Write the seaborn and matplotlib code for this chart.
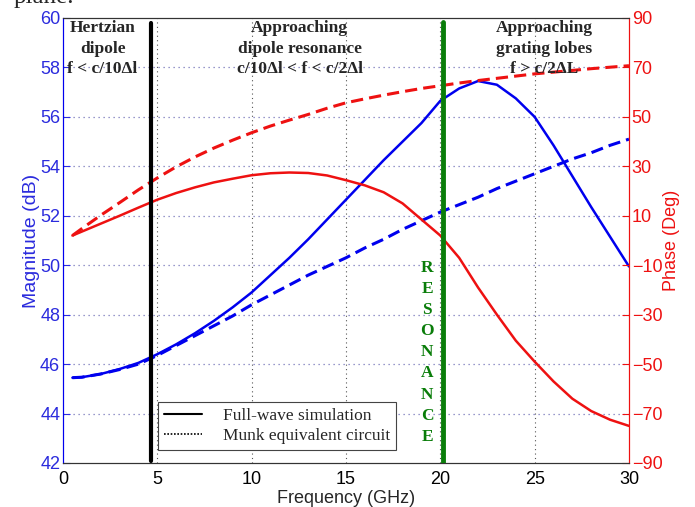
import matplotlib
matplotlib.use("Agg")
import matplotlib.pyplot as plt
from matplotlib.lines import Line2D
import seaborn as sns
import pandas as pd

# frequency grid (GHz)
freq = [0.5, 1, 2, 3, 4, 5, 6, 7, 8, 9, 10, 11, 12, 13, 14, 15,
        16, 17, 18, 19, 20, 21, 22, 23, 24, 25, 26, 27, 28, 29, 30]

# magnitude (dB)
mag_full = [45.45, 45.47, 45.6, 45.8, 46.05, 46.4, 46.8, 47.25, 47.75, 48.3,
            48.9, 49.6, 50.3, 51.05, 51.85, 52.65, 53.45, 54.25, 55.0, 55.75,
            56.65, 57.15, 57.45, 57.3, 56.75, 56.0, 54.85, 53.6, 52.35, 51.15, 49.95]
mag_munk = [45.45, 45.47, 45.6, 45.78, 46.0, 46.35, 46.75, 47.15, 47.55, 47.95,
            48.4, 48.8, 49.2, 49.6, 49.95, 50.3, 50.7, 51.05, 51.45, 51.8,
            52.15, 52.45, 52.75, 53.1, 53.4, 53.7, 54.0, 54.3, 54.55, 54.85, 55.1]

# phase (deg)
phase_full = [2, 3.6, 6.8, 10, 13.3, 16.5, 19.2, 21.5, 23.5, 25, 26.4, 27.2,
              27.5, 27.3, 26.3, 24.4, 22.3, 19.5, 15, 8.5, 2, -7, -19, -30,
              -40.5, -49, -57, -64, -69, -72.5, -75]
phase_munk = [2, 4.8, 10.2, 15.3, 20.5, 25.3, 29.8, 33.8, 37.4, 40.6, 43.6,
              46.3, 48.7, 51, 53.5, 55.7, 57.3, 58.8, 60.2, 61.5, 62.6, 63.7,
              64.7, 65.6, 66.5, 67.4, 68.1, 68.8, 69.5, 70.1, 70.7]

f_hertz = 4.65
f_res = 20.15

df = pd.DataFrame({"freq": freq, "mag_full": mag_full, "mag_munk": mag_munk,
                   "phase_full": phase_full, "phase_munk": phase_munk})

sns.set_style("white")
plt.rcParams['font.family'] = ['Liberation Sans', 'DejaVu Sans']

BLUE = '#0000ee'
BLUE_TXT = '#2b2bdd'
RED = '#ee1111'
GREEN = '#0a7d0a'

fig = plt.figure(figsize=(6.95, 5.07), dpi=100)
ax1 = fig.add_axes([0.0906, 0.0868, 0.8144, 0.8777])
ax2 = ax1.twinx()

sns.lineplot(data=df, x="freq", y="mag_full", ax=ax1, color=BLUE, lw=1.8)
sns.lineplot(data=df, x="freq", y="mag_munk", ax=ax1, color=BLUE, lw=2.2,
             linestyle=(0, (4, 2)))
sns.lineplot(data=df, x="freq", y="phase_full", ax=ax2, color=RED, lw=1.8)
sns.lineplot(data=df, x="freq", y="phase_munk", ax=ax2, color=RED, lw=2.2,
             linestyle=(0, (4, 2)))

ax1.set_xlim(0, 30)
ax1.set_ylim(42, 60)
ax2.set_ylim(-90, 90)
ax1.set_xticks([0, 5, 10, 15, 20, 25, 30])
ax1.set_yticks(range(42, 61, 2))
ax2.set_yticks(range(-90, 91, 20))

# grid
for xv in [5, 10, 15, 20, 25]:
    ax1.axvline(xv, color='#555555', ls=(0, (1, 3)), lw=0.8, zorder=0)
for yv in range(44, 60, 2):
    ax1.axhline(yv, color='#7777bb', ls=(0, (1, 3)), lw=0.9, zorder=0)

ax1.set_xlabel("Frequency (GHz)", fontsize=13, labelpad=1)
ax1.set_ylabel("Magnitude (dB)", fontsize=14, color=BLUE_TXT, labelpad=0)
ax2.set_ylabel("Phase (Deg)", fontsize=13, color=RED, labelpad=0)

ax1.tick_params(axis='y', colors=BLUE_TXT, labelsize=13, direction='in',
                length=5, width=0.8, pad=2)
ax1.tick_params(axis='x', colors='black', labelsize=13, direction='in',
                length=5, width=0.8, pad=6)
ax2.tick_params(axis='y', colors=RED, labelsize=13, direction='in',
                length=5, width=0.8, pad=2)

for ax in (ax1, ax2):
    ax.spines['left'].set_color(BLUE)
    ax.spines['right'].set_color(RED)
    ax.spines['top'].set_color('#333333')
    ax.spines['bottom'].set_color('#333333')
    for s in ax.spines.values():
        s.set_linewidth(0.8)

# region boundaries
ax2.plot([f_hertz, f_hertz], [-89, 88], color='black', lw=3, zorder=5)
ax2.plot([f_res, f_res], [-90, 88.5], color=GREEN, lw=3.5, zorder=5)

serif = ['Liberation Serif', 'DejaVu Serif']
txt = dict(ha='center', va='top', fontsize=12.5, fontweight='bold',
           family=serif, linespacing=1.35)
ax2.text(2.1, 89.0, "Hertzian\ndipole\nf < c/10\u0394l", **txt)
ax2.text(12.55, 89.0, "Approaching\ndipole resonance\nc/10\u0394l < f < c/2\u0394l", **txt)
ax2.text(25.5, 89.0, "Approaching\ngrating lobes\nf > c/2\u0394L", **txt)
ax2.text(19.3, -8.0, "\n".join("RESONANCE"), ha='center', va='top',
         fontsize=12.5, fontweight='bold', family=serif, color=GREEN,
         linespacing=1.42)

handles = [Line2D([0], [0], color='black', lw=1.5, ls='-'),
           Line2D([0], [0], color='black', lw=1.2, ls=(0, (1, 1)))]
leg = ax2.legend(handles, ["Full-wave simulation", "Munk equivalent circuit"],
                 loc='lower left', bbox_to_anchor=(0.168, 0.029),
                 borderaxespad=0,
                 prop={'family': serif, 'size': 12.5}, frameon=True,
                 fancybox=False, edgecolor='#444444', framealpha=1,
                 handlelength=2.2, borderpad=0.35, labelspacing=0.2,
                 handletextpad=1.2)
leg.get_frame().set_linewidth(0.8)
leg.set_zorder(10)

fig.text(0.02, 1.005, "plane.", ha='left', va='center', fontsize=18,
         family=serif)

fig.savefig("out.png", dpi=100)
